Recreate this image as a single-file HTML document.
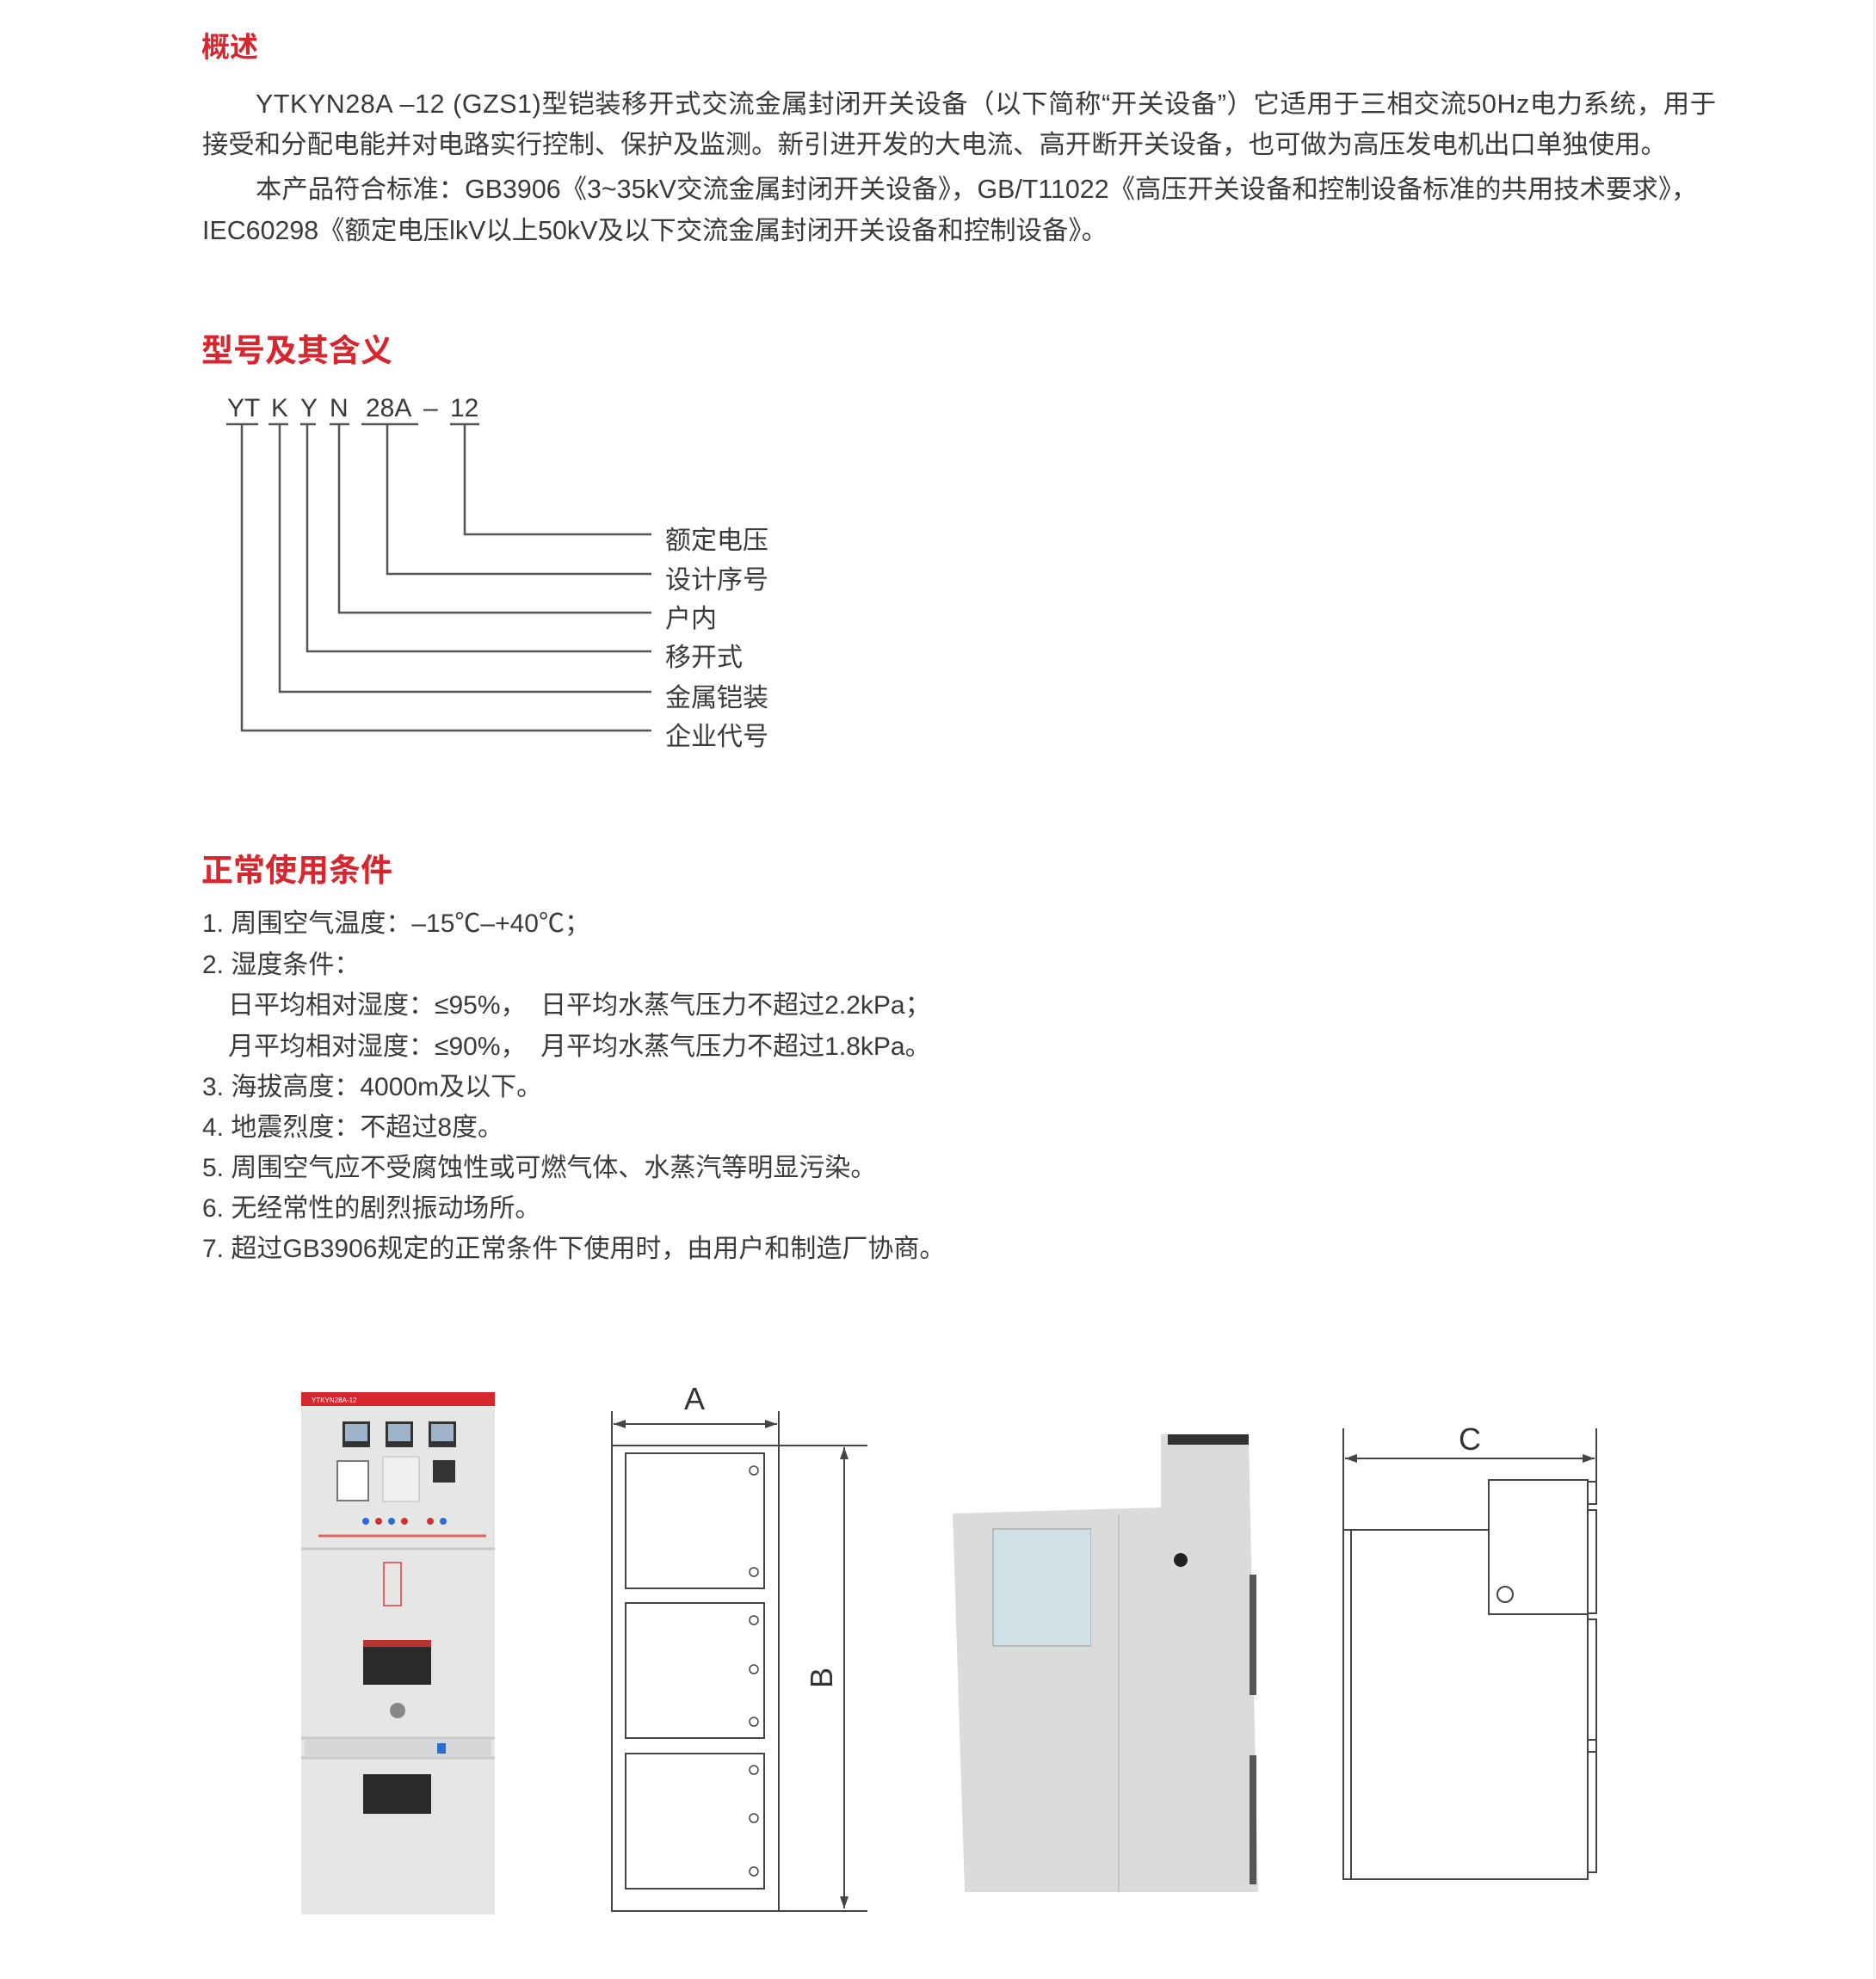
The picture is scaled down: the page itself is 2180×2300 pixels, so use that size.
<!DOCTYPE html>
<html><head><meta charset="utf-8">
<style>
body{margin:0;background:#fff;}
#c{position:relative;width:2180px;height:2300px;overflow:hidden;background:#fff;font-family:"Liberation Sans","Noto Sans CJK SC",sans-serif;color:#3a3a3a;}
.t{position:absolute;white-space:nowrap;}
.h{color:#d8262e;font-weight:bold;font-size:37px;}
.p{font-size:30.4px;}
.l{font-size:30px;}
</style></head><body><div id="c">
<div class="t h" style="left:234px;top:28px;font-size:33px;">概述</div>
<div class="t p" style="left:297px;top:96px;letter-spacing:0.6px;">YTKYN28A –12 (GZS1)型铠装移开式交流金属封闭开关设备（以下简称“开关设备”）它适用于三相交流50Hz电力系统，用于</div>
<div class="t p" style="left:235px;top:143px;">接受和分配电能并对电路实行控制、保护及监测。新引进开发的大电流、高开断开关设备，也可做为高压发电机出口单独使用。</div>
<div class="t p" style="left:297px;top:195px;">本产品符合标准：GB3906《3~35kV交流金属封闭开关设备》，GB/T11022《高压开关设备和控制设备标准的共用技术要求》，</div>
<div class="t p" style="left:235px;top:243px;">IEC60298《额定电压lkV以上50kV及以下交流金属封闭开关设备和控制设备》。</div>

<div class="t h" style="left:234px;top:377px;">型号及其含义</div>
<div class="t" style="left:264px;top:458px;font-size:30px;">YT</div>
<div class="t" style="left:315px;top:458px;font-size:30px;">K</div>
<div class="t" style="left:349px;top:458px;font-size:30px;">Y</div>
<div class="t" style="left:383px;top:458px;font-size:30px;">N</div>
<div class="t" style="left:425px;top:458px;font-size:30px;">28A</div>
<div class="t" style="left:492px;top:458px;font-size:30px;">–</div>
<div class="t" style="left:523px;top:458px;font-size:30px;">12</div>
<svg style="position:absolute;left:0;top:0" width="2180" height="1200">
<g stroke="#555" stroke-width="2.5" fill="none">
<path d="M263 493H300M312 493H335M349 493H367M383 493H406M420 493H486M523 493H557"/>
<path d="M281 493V849H757M325 493V804H757M357 493V757H757M394 493V712H757M450 493V667H757M540 493V621H757"/>
</g></svg>
<div class="t l" style="left:773px;top:603px;">额定电压</div>
<div class="t l" style="left:773px;top:649px;">设计序号</div>
<div class="t l" style="left:773px;top:694px;">户内</div>
<div class="t l" style="left:773px;top:739px;">移开式</div>
<div class="t l" style="left:773px;top:786px;">金属铠装</div>
<div class="t l" style="left:773px;top:831px;">企业代号</div>

<div class="t h" style="left:234px;top:981px;">正常使用条件</div>
<div class="t l" style="left:235px;top:1048px;">1. 周围空气温度：–15℃–+40℃；</div>
<div class="t l" style="left:235px;top:1096px;">2. 湿度条件：</div>
<div class="t l" style="left:265px;top:1143px;">日平均相对湿度：≤95%，&nbsp;&nbsp;日平均水蒸气压力不超过2.2kPa；</div>
<div class="t l" style="left:265px;top:1191px;">月平均相对湿度：≤90%，&nbsp;&nbsp;月平均水蒸气压力不超过1.8kPa。</div>
<div class="t l" style="left:235px;top:1238px;">3. 海拔高度：4000m及以下。</div>
<div class="t l" style="left:235px;top:1285px;">4. 地震烈度：不超过8度。</div>
<div class="t l" style="left:235px;top:1332px;">5. 周围空气应不受腐蚀性或可燃气体、水蒸汽等明显污染。</div>
<div class="t l" style="left:235px;top:1379px;">6. 无经常性的剧烈振动场所。</div>
<div class="t l" style="left:235px;top:1426px;">7. 超过GB3906规定的正常条件下使用时，由用户和制造厂协商。</div>

<svg style="position:absolute;left:0;top:1550px" width="2180" height="750" viewBox="0 1550 2180 750">
<rect x="350" y="1618" width="225" height="607" fill="#e6e6e4"/>
<rect x="350" y="1618" width="225" height="16" fill="#d8262e"/>
<text x="362" y="1630" font-size="8" fill="#fff" font-family="Liberation Sans">YTKYN28A-12</text>
<g stroke="#c8c8c8" stroke-width="3"><path d="M350 1800H575M350 2020H575M350 2043H575"/></g>
<rect x="354" y="2022" width="217" height="20" fill="#d4d6d8"/>
<rect x="508" y="2026" width="10" height="12" fill="#2a6fd0"/>
<g fill="#333"><rect x="398" y="1652" width="32" height="30"/><rect x="448" y="1652" width="32" height="30"/><rect x="498" y="1652" width="32" height="30"/></g>
<g fill="#9fb4c8"><rect x="401" y="1655" width="26" height="20"/><rect x="451" y="1655" width="26" height="20"/><rect x="501" y="1655" width="26" height="20"/></g>
<rect x="392" y="1698" width="36" height="46" fill="#fff" stroke="#777" stroke-width="2"/>
<rect x="445" y="1693" width="42" height="52" fill="#f0f0f0" stroke="#bbb"/>
<rect x="503" y="1697" width="26" height="26" fill="#333"/>
<g fill="#c33"><circle cx="440" cy="1768" r="4"/><circle cx="470" cy="1768" r="4"/><circle cx="500" cy="1768" r="4"/></g>
<g fill="#2a6fd0"><circle cx="425" cy="1768" r="4"/><circle cx="455" cy="1768" r="4"/><circle cx="515" cy="1768" r="4"/></g>
<path d="M370 1785H565" stroke="#d66" stroke-width="3"/>
<rect x="446" y="1816" width="20" height="50" fill="none" stroke="#d66" stroke-width="2"/>
<rect x="422" y="1906" width="79" height="52" fill="#2a2a2a"/>
<rect x="422" y="1906" width="79" height="8" fill="#b33"/>
<circle cx="462" cy="1988" r="9" fill="#888"/>
<rect x="422" y="2062" width="79" height="46" fill="#2a2a2a"/>
<g stroke="#444" stroke-width="2" fill="none">
<rect x="711" y="1680" width="194" height="541"/>
<path d="M711 1640V1680M905 1640V1680M713 1655H903M905 1680H1008M905 2221H1008M981 1682V2218"/>
<rect x="727" y="1689" width="161" height="157"/>
<rect x="727" y="1863" width="161" height="157"/>
<rect x="727" y="2038" width="161" height="157"/>
</g>
<g fill="#444"><path d="M713 1655l14-5v10zM903 1655l-14-5v10zM981 1682l-5 14h10zM981 2218l-5-14h10z"/></g>
<g stroke="#444" stroke-width="1.5" fill="none">
<circle cx="876" cy="1709" r="5"/><circle cx="876" cy="1827" r="5"/><circle cx="876" cy="1883" r="5"/><circle cx="876" cy="1940" r="5"/><circle cx="876" cy="2001" r="5"/><circle cx="876" cy="2057" r="5"/><circle cx="876" cy="2113" r="5"/><circle cx="876" cy="2175" r="5"/></g>
<text x="807" y="1638" font-size="36" fill="#333" text-anchor="middle" font-family="Liberation Sans">A</text>
<text transform="translate(967,1950) rotate(-90)" font-size="36" fill="#333" text-anchor="middle" font-family="Liberation Sans">B</text>
<polygon points="1107,1759 1349,1752 1349,1667 1451,1667 1462,2199 1121,2199" fill="#dadcdc"/>
<rect x="1357" y="1667" width="94" height="12" fill="#333"/>
<rect x="1154" y="1777" width="114" height="136" fill="#cfe0e6" stroke="#999"/>
<polygon points="1268,1777 1268,1913 1330,1850 1330,1777" fill="#dadcdc"/>
<path d="M1300 1760V2199" stroke="#c6c6c6" stroke-width="2"/>
<rect x="1452" y="1830" width="8" height="140" fill="#555"/>
<rect x="1452" y="2040" width="8" height="150" fill="#555"/>
<circle cx="1372" cy="1813" r="8" fill="#222"/>
<g stroke="#444" stroke-width="2" fill="none">
<path d="M1561 1660V2184H1845V1720M1561 1778H1730M1570 1778V2184"/>
<rect x="1730" y="1720" width="115" height="156"/>
<path d="M1855 1660V1735M1563 1695H1853"/>
<rect x="1845" y="1722" width="10" height="26"/><rect x="1845" y="1755" width="10" height="120"/><rect x="1845" y="1882" width="10" height="140"/><rect x="1845" y="2022" width="10" height="14"/><rect x="1845" y="2036" width="10" height="140"/>
<circle cx="1749" cy="1853" r="9"/>
</g>
<g fill="#444"><path d="M1563 1695l14-5v10zM1853 1695l-14-5v10z"/></g>
<text x="1708" y="1685" font-size="36" fill="#333" text-anchor="middle" font-family="Liberation Sans">C</text>
</svg>
<div style="position:absolute;left:2177px;top:0;width:2px;height:2300px;background:#eee;"></div>
</div></body></html>
